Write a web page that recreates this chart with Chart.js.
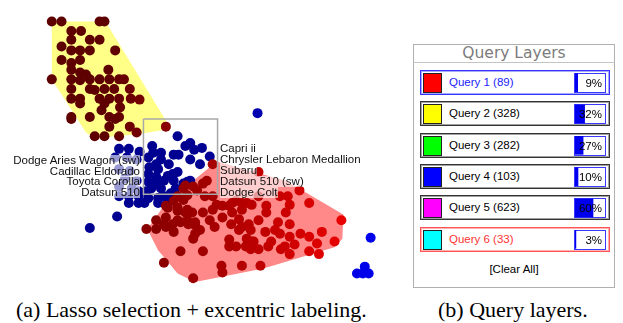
<!DOCTYPE html>
<html>
<head>
<meta charset="utf-8">
<script src="https://cdn.jsdelivr.net/npm/chart.js@4.4.1/dist/chart.umd.min.js"></script>
<style>
    body { margin: 0; background: #fff; }
    #page { position: relative; width: 623px; height: 323px; overflow: hidden; font-family: 'Liberation Sans', Arial, sans-serif; }
    .lbl { position: absolute; font-size: 11.5px; line-height: 11px; color: #111; background: rgba(255,255,255,0.6); white-space: nowrap; z-index: 2; }
    .caption { position: absolute; top: 297px; font-family: 'Liberation Serif', 'Times New Roman', serif; font-size: 22px; color: #000; white-space: nowrap; }
</style>
</head>
<body>
<div id="page">
    <canvas id="scatter" width="400" height="290" style="position:absolute; left:0; top:0;"></canvas>
    <div id="panel"></div>
    <canvas id="bars" width="30" height="188" style="position:absolute; left:575px; top:67px; z-index:2;"></canvas>
    <div class="caption" style="left:16px;">(a) Lasso selection + excentric labeling.</div>
    <div class="caption" style="left:438px;">(b) Query layers.</div>
</div>
<script>
// --- scatter data (x, y in plot units) ---
const maroonPts = [
    [48,17],[58,17],[97,17],[102,17],
    [68,27],[78,27],
    [68,36],[87,36],[97,36],
    [58,43],[68,47],[77,47],[87,47],[113,47],
    [58,57],[68,60],[77,57],
    [48,77],[68,67],[68,77],[77,70],[77,78],[83,72],[87,77],[97,77],[106,67],[107,77],[117,77],[122,77],
    [68,87],[87,87],[92,88],[102,87],[112,87],[128,87],
    [68,97],[77,97],[77,102],[97,97],[102,102],[107,97],[117,97],[118,106],[129,97],[138,98],
    [99,109],[107,116],[117,116],[68,116],[87,116],[68,118],
    [107,126],[113,118],[128,126],[135,132],[165,126],
    [92,136],[102,136],[117,136]
];
const bluePts = [
    [259,112],[177,136],[151,146],[185,146],[190,143],[194,150],[202,148],
    [152,153],[160,153],[147,158],[160,160],[173,155],[178,155],[168,165],[190,160],[210,157],[200,165],
    [148,168],[157,170],[147,175],[155,178],[167,177],[177,173],[163,182],[147,183],[155,185],
    [183,185],[190,182],[150,190],[160,190],[175,190],[145,193],[170,195],
    [155,165],[172,175],[173,182],[187,183],
    [117,149],[127,149],[138,152],
    [113,158],[125,158],[135,160],[117,170],[128,172],[123,180],[135,182],[117,188],[130,190],[137,193],
    [117,198],[127,198],[137,198],[147,200],[157,200],[163,198],[127,205],[137,205],[143,205],[157,205],[167,203],
    [115,219],[87,231],
    [375,241],[369,271],[361,278],[367,278],[373,278]
];
const redPts = [
    [213,165],[207,182],[197,192],[205,198],[213,198],[217,207],[203,185],[183,190],
    [165,208],[173,203],[183,202],[185,215],[177,213],[192,215],[195,225],[200,233],[188,227],[180,225],
    [172,227],[163,227],[155,223],[145,232],[155,232],[173,235],[193,242],
    [203,215],[213,212],[210,223],[215,230],[223,220],[233,215],[232,227],[240,222],[243,212],[230,208],
    [223,208],[237,203],[248,205],[243,230],[252,233],[248,242],[230,243],[237,250],[230,250],[255,245],
    [180,255],[203,255],[163,267],[222,270],[223,277],
    [260,173],[302,192],[282,198],[290,198],[292,207],[268,208],[260,198],[233,205],
    [345,223],[325,235],[320,247],[322,258],[338,245],[312,255],[303,237],[312,240],[292,240],[297,248],
    [287,250],[277,233],[280,225],[267,235],[260,223],[250,227],[240,233],[247,250],[260,253],[270,250],
    [262,270],[243,270],[193,283],
    [292,227],[282,237],[273,245],[292,258],[283,253],[252,253],[253,245],[268,215],[288,215],[312,205],
    [253,207],[243,205],
    [185,187],[193,188],[177,198],[187,197],[167,210],[177,210],[187,212],[165,220],[165,230],[177,223],
    [187,223],[195,228],[195,237]
];
const yellowHull = [[48,17],[103,17],[167,123],[160,130],[133,134],[92,138],[83,132],[48,77],[48,17]];
const redHull = [[217,162],[288,182],[347,217],[346,242],[338,251],[265,273],[195,287],[177,278],[157,254],[146,232],[165,205],[198,178],[217,162]];
const lassoRect = [[142,118],[218,118],[218,196],[142,196],[142,118]];

const leftLabels = ['Dodge Aries Wagon (sw)', 'Cadillac Eldorado', 'Toyota Corolla', 'Datsun 510'];
const rightLabels = ['Capri ii', 'Chrysler Lebaron Medallion', 'Subaru', 'Datsun 510 (sw)', 'Dodge Colt'];

// --- query layer data ---
const queryNames = ['Query 1', 'Query 2', 'Query 3', 'Query 4', 'Query 5', 'Query 6'];
const queryCounts = [89, 328, 282, 103, 623, 33];
const queryPct = [9, 32, 27, 10, 60, 3];

const swatchColors = ['#ff0000', '#ffff00', '#00ff00', '#0000ff', '#ff00ff', '#00ffff'];
const rowBorder = ['#3535ff', '#333333', '#333333', '#333333', '#333333', '#ff5555'];
const rowInner = ['#a8a8ff', '#a0a0a0', '#a0a0a0', '#a0a0a0', '#a0a0a0', '#ffb0b0'];
const rowText = ['#2222ff', '#000', '#000', '#000', '#000', '#ff3333'];

const toXY = arr => arr.map(([x, y]) => ({ x, y }));
const lerpColor = (v, v0, v1, c0, c1) => {
    const t = Math.max(0, Math.min(1, (v - v0) / (v1 - v0)));
    return `rgb(${c0.map((c, k) => Math.round(c + (c1[k] - c) * t)).join(',')})`;
};

const pointDefaults = { pointRadius: 5, pointBorderWidth: 0, pointHoverRadius: 5 };

new Chart(document.getElementById('scatter'), {
    type: 'scatter',
    data: {
        datasets: [
            {
                data: toXY(redPts), order: 1, ...pointDefaults,
                backgroundColor: ctx => lerpColor(ctx.raw ? ctx.raw.x : 150, 150, 345, [135, 0, 0], [232, 0, 0])
            },
            {
                data: toXY(bluePts), order: 2, ...pointDefaults,
                backgroundColor: ctx => lerpColor(ctx.raw ? ctx.raw.x : 150, 200, 370, [0, 0, 145], [0, 0, 235])
            },
            {
                data: toXY(maroonPts), order: 2, ...pointDefaults,
                backgroundColor: ctx => lerpColor(ctx.raw ? ctx.raw.x : 50, 110, 170, [95, 0, 0], [140, 0, 0])
            },
            {
                data: toXY(lassoRect), order: 0, showLine: true, fill: false,
                borderColor: '#a8a8a8', borderWidth: 1.5, pointRadius: 0, tension: 0
            },
            {
                data: toXY(yellowHull), order: 5, showLine: true, fill: 'shape',
                backgroundColor: '#ffff88', borderWidth: 0, borderColor: 'rgba(0,0,0,0)', pointRadius: 0, tension: 0
            },
            {
                data: toXY(redHull), order: 5, showLine: true, fill: 'shape',
                backgroundColor: '#ff8888', borderWidth: 0, borderColor: 'rgba(0,0,0,0)', pointRadius: 0, tension: 0
            }
        ]
    },
    options: {
        responsive: false,
        animation: false,
        layout: { padding: 0 },
        plugins: { legend: { display: false }, tooltip: { enabled: false } },
        scales: {
            x: { type: 'linear', min: 0, max: 400, display: false },
            y: { type: 'linear', min: 0, max: 290, reverse: true, display: false }
        }
    }
});

// excentric labels
const page = document.getElementById('page');
leftLabels.forEach((txt, i) => {
    const d = document.createElement('div');
    d.className = 'lbl';
    d.textContent = txt;
    d.style.right = (623 - 140) + 'px';
    d.style.top = (154.8 + i * 10.7) + 'px';
    page.appendChild(d);
});
rightLabels.forEach((txt, i) => {
    const d = document.createElement('div');
    d.className = 'lbl';
    d.textContent = txt;
    d.style.left = '220px';
    d.style.top = (143 + i * 10.9) + 'px';
    page.appendChild(d);
});

// query layers panel
const panel = document.getElementById('panel');
panel.innerHTML = `
    <div style="position:absolute; left:413px; top:44px; width:202px; height:244px; box-sizing:border-box; border:1px solid #b0b0b0;"></div>
    <div style="position:absolute; left:413px; top:44px; width:202px; height:19px; line-height:19px; text-align:center; font-family:'DejaVu Sans', sans-serif; font-size:15.5px; color:#7c7c7c; border-bottom:1px solid #c4c4c4; box-sizing:border-box;">Query Layers</div>
    ${queryNames.map((name, i) => {
        const top = 70 + i * 31.33;
        return `
        <div style="position:absolute; left:420px; top:${top}px; width:190px; height:25px; box-sizing:border-box; border:1px solid ${rowBorder[i]}; box-shadow: inset 0 0 0 1px ${rowInner[i]}; background:#fff;"></div>
        <div style="position:absolute; left:423px; top:${top + 3}px; width:19px; height:20px; box-sizing:border-box; border:1px solid #222; background:${swatchColors[i]};"></div>
        <div style="position:absolute; left:449px; top:${top}px; height:25px; line-height:25px; font-size:11.5px; color:${rowText[i]}; white-space:nowrap;">${name} (${queryCounts[i]})</div>
        <div style="position:absolute; left:574px; top:${top + 3}px; width:32px; height:20px; box-sizing:border-box; border:1px solid #3a3aff; background:#fff; z-index:1;"></div>
        <div style="position:absolute; left:574px; top:${top + 3}px; width:32px; height:20px; line-height:20px; box-sizing:border-box; padding-right:4px; text-align:right; font-size:11.5px; color:#000; z-index:3;">${queryPct[i]}%</div>`;
    }).join('')}
    <div style="position:absolute; left:413px; top:262px; width:202px; text-align:center; font-size:11.5px; line-height:14px; color:#000;">[Clear All]</div>
`;

new Chart(document.getElementById('bars'), {
    type: 'bar',
    data: {
        labels: queryNames,
        datasets: [{ data: queryPct, backgroundColor: '#0000ee', borderWidth: 0, barThickness: 18 }]
    },
    options: {
        indexAxis: 'y',
        responsive: false,
        animation: false,
        layout: { padding: 0 },
        plugins: { legend: { display: false }, tooltip: { enabled: false } },
        scales: {
            x: { min: 0, max: 100, display: false },
            y: { display: false }
        }
    }
});
</script>
</body>
</html>
